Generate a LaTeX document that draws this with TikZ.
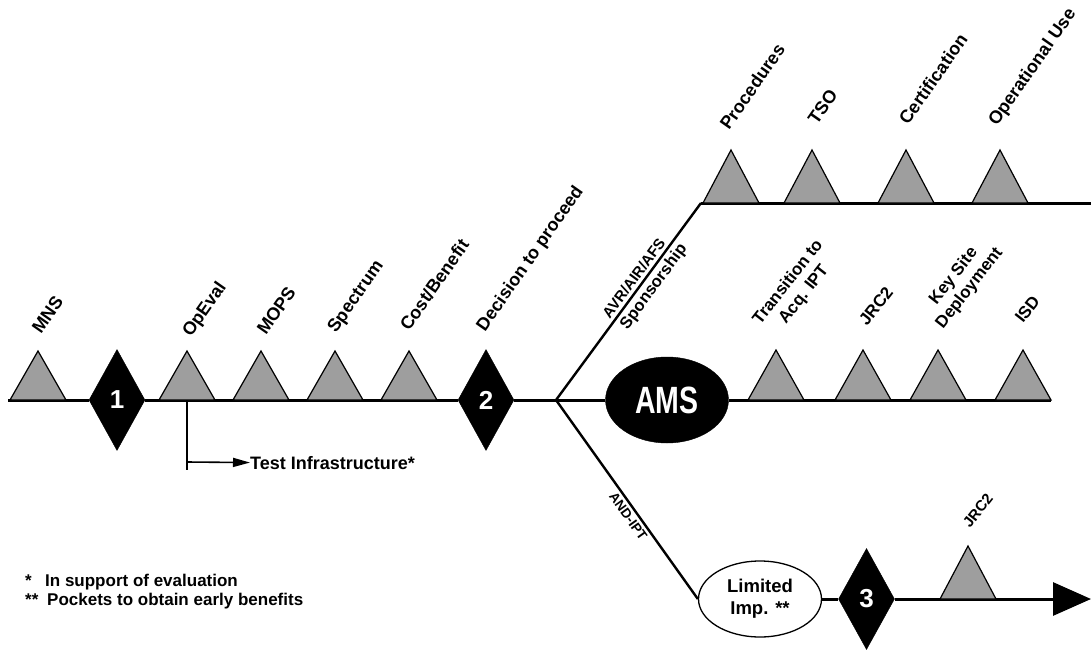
\documentclass[tikz,border=0pt]{standalone}
\usepackage{fontspec}
\setmainfont{Liberation Sans}
\usetikzlibrary{shapes.geometric,arrows.meta,calc}
\definecolor{trigray}{RGB}{158,158,158}
\tikzset{
  mainline/.style={line width=3pt},
  branchline/.style={line width=2.4pt},
  thinline/.style={line width=1.6pt},
  tri/.style={fill=trigray, draw=black, line width=1.2pt},
  lab/.style={font=\fontsize{18}{21}\selectfont\bfseries, inner sep=0pt, rotate=55, anchor=base west},
  midlab/.style={font=\fontsize{17}{20}\selectfont\bfseries, inner sep=0pt, rotate=52, anchor=south west, align=center},
  midlabone/.style={font=\fontsize{17}{20}\selectfont\bfseries, inner sep=0pt, rotate=52, anchor=base west},
  lowlab/.style={font=\fontsize{15}{18}\selectfont\bfseries, inner sep=0pt, rotate=52, anchor=base west},
  dia/.style={diamond, fill=black, draw=black, inner sep=0pt, minimum width=56pt, minimum height=101pt, text=white, font=\fontsize{26}{28}\selectfont\bfseries},
  amsnode/.style={ellipse, fill=black, draw=black, inner sep=0pt, minimum width=123pt, minimum height=86pt, text=white, font=\fontsize{38}{40}\selectfont\bfseries},
  limnode/.style={ellipse, fill=white, draw=black, line width=1.3pt, inner sep=0pt, minimum width=123pt, minimum height=76pt, align=center, font=\fontsize{18.5}{22}\selectfont\bfseries},
  brlab/.style={font=\fontsize{15}{18}\selectfont\bfseries, inner sep=3pt},
  fn/.style={font=\fontsize{17}{20}\selectfont\bfseries, inner sep=0pt, anchor=base west},
  tinfo/.style={font=\fontsize{18}{21}\selectfont\bfseries, inner sep=0pt, anchor=base west}
}
\newcommand\mstone[7]{%
  \coordinate (#1) at (#2,#3);
  \draw[tri] ($(#1)+(-28,0)$) -- ($(#1)+(0,-#7)$) -- ($(#1)+(28,0)$) -- cycle;
  \node[#6] (#1-lab) at ($(#1)+(#5)$) {#4};
}
\begin{document}
\begin{tikzpicture}[x=1pt,y=-1pt]
\useasboundingbox (0,0) rectangle (1091,650);

% key coordinates
\coordinate (start) at (8,400);
\coordinate (br) at (556,400);
\coordinate (uc) at (701,203);
\coordinate (upend) at (1091,203);
\coordinate (midend) at (1051,400);
\coordinate (tip) at (1091,599);
\coordinate (tv) at (187,470);
\coordinate (th) at (187,462);

% nodes
\node[dia] (d1) at (117,400) {1};
\node[dia] (d2) at (486,400) {2};
\node[amsnode] (ams) at (667,400) {\scalebox{0.75}[1]{AMS}};
\node[limnode] (lim) at (760,599) {Limited\\Imp. **};
\node[dia] (d3) at (866.5,599) {3};

% connectors
\draw[mainline] (start) -- (d1) -- (d2) -- (br);
\draw[branchline, line join=miter] (br) -- node[pos=0.59, sloped, above, brlab] (avr) {AVR/AIR/AFS}
  node[pos=0.61, sloped, below, brlab, font=\fontsize{16.5}{19}\selectfont\bfseries] (spon) {Sponsorship} (uc);
\draw[mainline] (uc) -- (upend);
\draw[mainline] (br) -- (ams) -- (midend);
\draw[branchline] (br) -- node[pos=0.56, sloped, below, brlab, font=\fontsize{13.5}{16}\selectfont\bfseries] (andipt) {AND-IPT} (lim.west);
\draw[mainline] (lim) -- (d3);
\draw[mainline, -{Triangle[length=38pt,width=33pt]}] (d3) -- (tip);

% bottom row milestones
\mstone{mns}{38}{400}{MNS}{3,-65}{lab}{49}
\mstone{opeval}{187}{400}{OpEval}{4,-62}{lab}{49}
\mstone{mops}{261}{400}{MOPS}{5,-64}{lab}{49}
\mstone{spectrum}{335}{400}{Spectrum}{1,-66}{lab}{49}
\mstone{costben}{409}{400}{Cost/Benefit}{0,-68}{lab}{49}
\node[lab] (decision) at ($(d2.north)+(-1,-17)$) {Decision to proceed};

% upper row
\mstone{proc}{731}{203}{Procedures}{-2,-72}{lab}{53}
\mstone{tso}{812}{203}{TSO}{5,-77}{lab}{53}
\mstone{cert}{906}{203}{Certification}{2,-77}{lab}{53}
\mstone{opuse}{1000}{203}{Operational Use}{-3,-76}{lab}{53}

% middle row
\mstone{trans}{776}{400}{Transition to\\Acq. IPT}{3,-60}{midlab}{50}
\mstone{jrcm}{863}{400}{JRC2}{4,-73}{midlabone}{50}
\mstone{keysite}{938}{400}{Key Site\\Deployment}{8,-68}{midlab}{50}
\mstone{isd}{1023}{400}{ISD}{0,-76}{midlabone}{50}

% lower row
\mstone{jrcl}{968}{599}{JRC2}{2,-70}{lowlab}{53}

% test infrastructure
\node[tinfo] (ti) at (250,469) {Test Infrastructure*};
\draw[thinline] (opeval) -- (tv);
\draw[thinline, -{Triangle[length=17pt,width=9pt]}] (th) -- (ti.west);

% footnotes
\node[fn] (fn1a) at (25,586) {*};
\node[fn] (fn1b) at (45,586) {In support of evaluation};
\node[fn] (fn2a) at (25,605) {**};
\node[fn] (fn2b) at (47,605) {Pockets to obtain early benefits};
\end{tikzpicture}
\end{document}
